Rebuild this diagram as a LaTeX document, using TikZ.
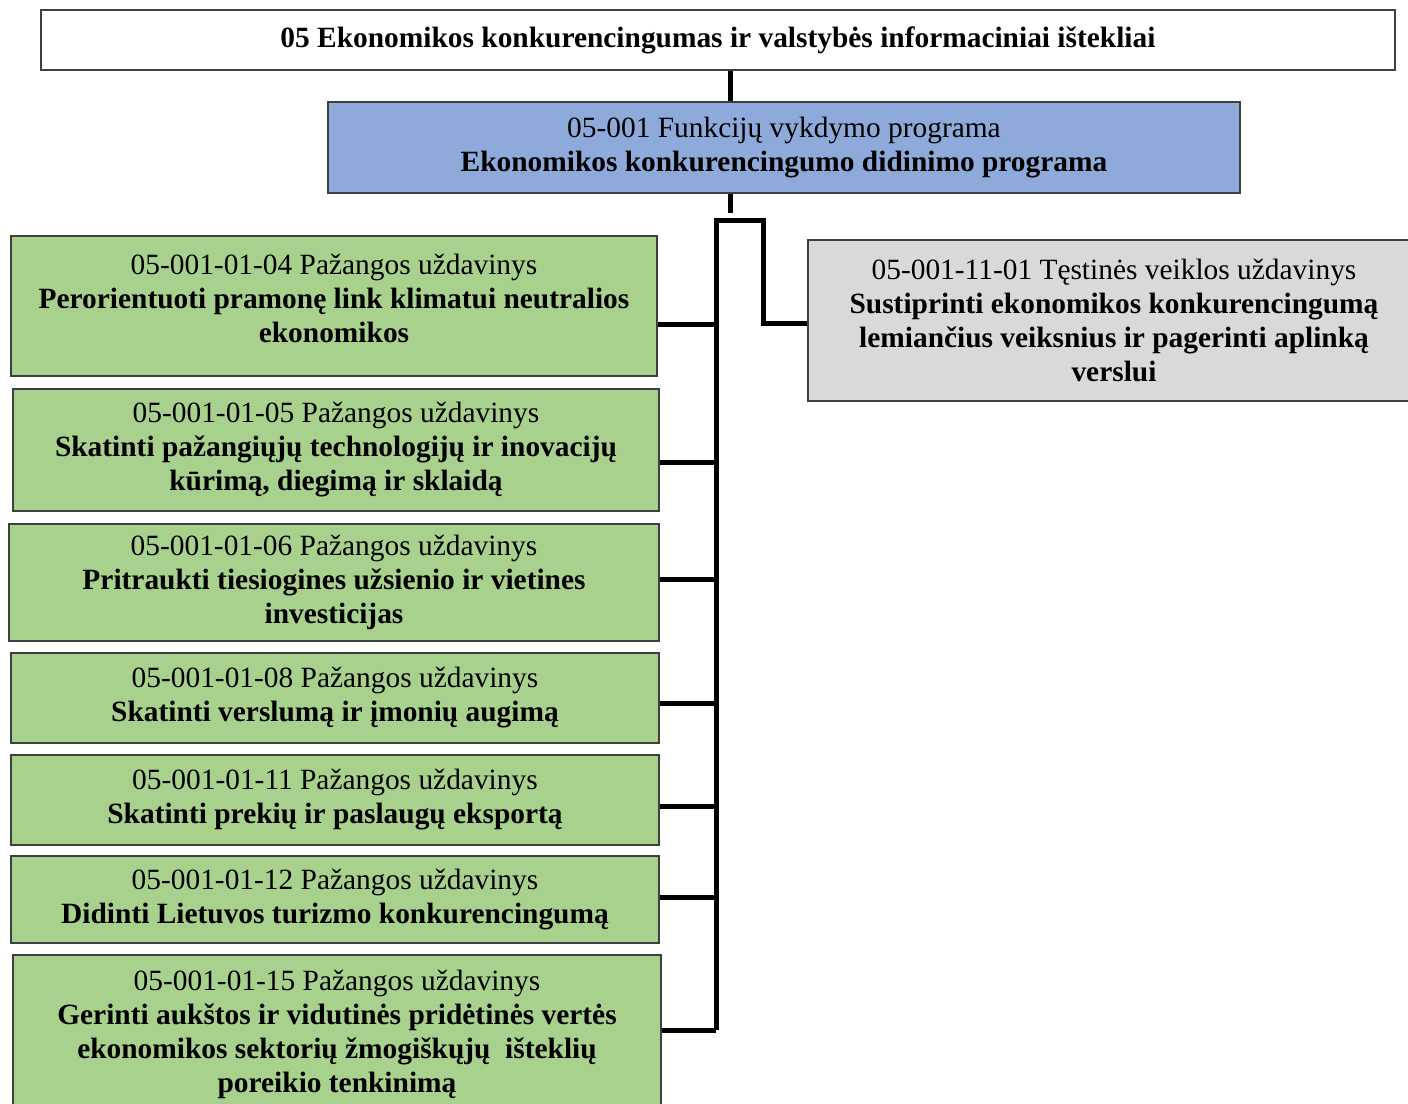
\documentclass[tikz,border=0pt]{standalone}
\usepackage{fontspec}
\setmainfont{Liberation Serif}
\definecolor{frame}{HTML}{3F3F3F}
\definecolor{progblue}{HTML}{8EAADB}
\definecolor{taskgreen}{HTML}{A9D18E}
\definecolor{taskgray}{HTML}{D9D9D9}
\tikzset{
  box/.style={draw=frame,line width=0.6pt,rectangle,align=center,inner sep=2pt,
    font=\fontsize{14.7}{17}\selectfont\bfseries},
  green/.style={box,fill=taskgreen},
  link/.style={line width=2.5pt,black}
}

\begin{document}
\begin{tikzpicture}[x=0.5pt,y=-0.5pt]
  \useasboundingbox (0,0) rectangle (1408,1103);
  \clip (0,0) rectangle (1408,1103);

  \node[box,fill=white,minimum width=677pt,minimum height=30pt] (top) at (718,40)
    {05 Ekonomikos konkurencingumas ir valstybės informaciniai ištekliai};
  \node[box,fill=progblue,minimum width=456pt,minimum height=45.5pt] (prog) at (784,147.5)
    {\textmd{05-001 Funkcijų vykdymo programa}\\Ekonomikos konkurencingumo didinimo programa};
  \node[box,fill=taskgray,minimum width=306pt,minimum height=80.5pt] (cont) at (1114,320.5)
    {\textmd{05-001-11-01 Tęstinės veiklos uždavinys}\\Sustiprinti ekonomikos konkurencingumą\\
     lemiančius veiksnius ir pagerinti aplinką\\verslui};

  \node[green,minimum width=323pt,minimum height=70pt] (g1) at (334,306)
    {\textmd{05-001-01-04 Pažangos uždavinys}\\Perorientuoti pramonę link klimatui neutralios\\
     ekonomikos\rule[-8pt]{0pt}{8pt}};
  \node[green,minimum width=323pt,minimum height=61pt] (g2) at (336,450)
    {\textmd{05-001-01-05 Pažangos uždavinys}\\Skatinti pažangiųjų technologijų ir inovacijų\\
     kūrimą, diegimą ir sklaidą};
  \node[green,minimum width=325pt,minimum height=58.5pt] (g3) at (334,582.5)
    {\textmd{05-001-01-06 Pažangos uždavinys}\\Pritraukti tiesiogines užsienio ir vietines\\investicijas};
  \node[green,minimum width=324pt,minimum height=45pt] (g4) at (335,698)
    {\textmd{05-001-01-08 Pažangos uždavinys}\\Skatinti verslumą ir įmonių augimą};
  \node[green,minimum width=324pt,minimum height=45pt] (g5) at (335,800)
    {\textmd{05-001-01-11 Pažangos uždavinys}\\Skatinti prekių ir paslaugų eksportą};
  \node[green,minimum width=324pt,minimum height=43.5pt] (g6) at (335,899.5)
    {\textmd{05-001-01-12 Pažangos uždavinys}\\Didinti Lietuvos turizmo konkurencingumą};
  \node[green,minimum width=324pt,minimum height=79.5pt] (g7) at (337,1034.5)
    {\textmd{05-001-01-15 Pažangos uždavinys}\\Gerinti aukštos ir vidutinės pridėtinės vertės\\
     ekonomikos sektorių žmogiškųjų\ \ išteklių\\poreikio tenkinimą};

  \coordinate (trunk) at (730,0);
  \coordinate (busL) at (716,220);
  \coordinate (busR) at (763,220);
  \coordinate (stub) at (730,213);

  \draw[link] (top.south -| trunk) -- (prog.north -| trunk);
  \draw[link] (prog.south -| trunk) -- (stub);
  \draw[link,line join=miter] ([yshift=2.25pt]g7.east -| busL) -- (busL) -- (busR)
    -- ([yshift=-1.25pt]cont.west -| busR) -- ([yshift=-1.25pt]cont.west);
  \foreach \g/\dy in {g1/-9,g2/-6,g3/1.75,g4/-2.5,g5/-3,g6/1.25,g7/2.25}
    \draw[link] ([yshift=\dy pt]\g.east) -- ([yshift=\dy pt]\g.east -| busL);
\end{tikzpicture}
\end{document}
